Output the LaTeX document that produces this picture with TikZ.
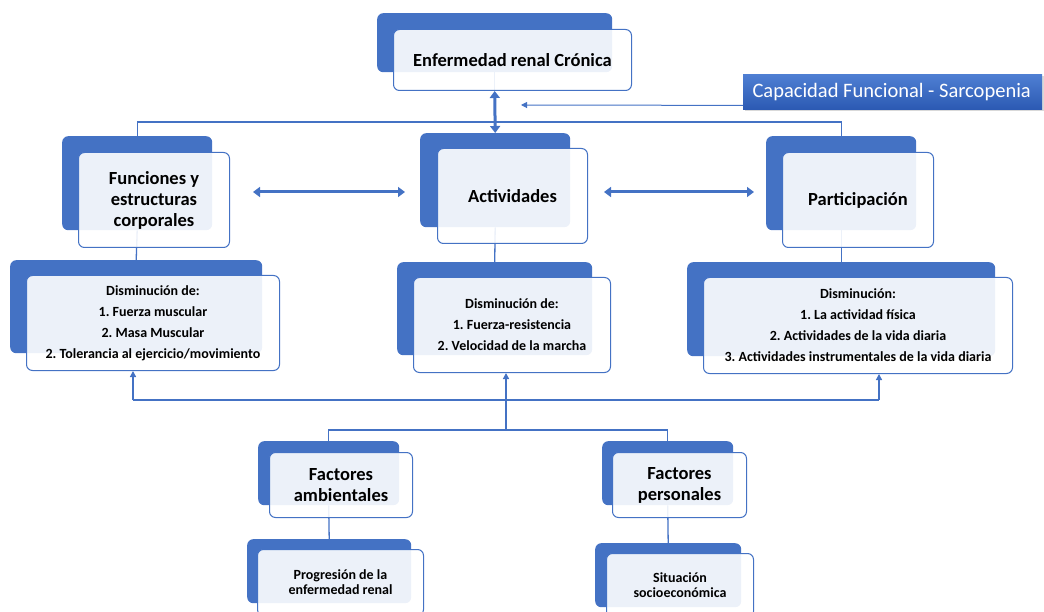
\documentclass[tikz,border=0pt]{standalone}
\usepackage{fontspec}
\setmainfont{Carlito}
\frenchspacing
\usetikzlibrary{arrows.meta,shadows}
\definecolor{bl}{HTML}{4472C4}
\definecolor{capTop}{HTML}{4F7FD3}
\definecolor{capBot}{HTML}{2C5AB3}
\tikzset{
  backbox/.style={fill=bl, draw=none, rounded corners=6pt, inner sep=0pt, anchor=north west},
  frontbox/.style={draw=bl, line width=1pt, fill=white, fill opacity=0.9, text opacity=1,
    rounded corners=6pt, inner sep=0pt, anchor=north west, align=center, text=black},
  head/.style={font=\fontsize{18.5}{21}\selectfont\bfseries},
  items/.style={font=\fontsize{14}{21}\selectfont\bfseries},
  small/.style={font=\fontsize{14}{15}\selectfont\bfseries},
  conn/.style={draw=bl, line width=1.3pt},
  thinarrow/.style={conn, -{Triangle[length=6pt,width=6pt]}},
  bigarrow/.style={draw=bl, line width=3pt,
    {Triangle[length=7pt,width=10pt]}-{Triangle[length=7pt,width=10pt]}},
}
\begin{document}
\begin{tikzpicture}[x=1pt,y=-1pt]
\path[use as bounding box] (0,0) rectangle (1044,612);
\clip (0,0) rectangle (1044,612);

% back boxes
\node[backbox, minimum width=235, minimum height=59] (eb) at (377,13) {};
\node[backbox, minimum width=150, minimum height=94] (fb) at (62,136) {};
\node[backbox, minimum width=150, minimum height=94] (ab) at (420,133) {};
\node[backbox, minimum width=150, minimum height=94] (pb) at (766,136) {};
\node[backbox, minimum width=252, minimum height=93] (fdb) at (10,260) {};
\node[backbox, minimum width=195, minimum height=93] (adb) at (397,262) {};
\node[backbox, minimum width=308, minimum height=94] (pdb) at (687,262) {};
\node[backbox, minimum width=141, minimum height=64] (amb) at (258,441) {};
\node[backbox, minimum width=131, minimum height=64] (peb) at (602,441) {};
\node[backbox, minimum width=164, minimum height=64] (amdb) at (247,539) {};
\node[backbox, minimum width=146, minimum height=64] (pedb) at (595,543) {};

% helper points for the connectors
\coordinate (topbus) at (0,122);
\coordinate (jl) at (133,400);
\coordinate (jm) at (506,400);
\coordinate (jr) at (879,400);
\coordinate (jb) at (506,430);
\coordinate (capend) at (521,105);
\coordinate (la) at (253,192);
\coordinate (lb) at (405,192);
\coordinate (ra) at (604,192);
\coordinate (rb) at (754,192);

% connectors lying under the front boxes
\draw[conn] (fb.north) -- (fb.north |- topbus) -- (pb.north |- topbus) -- (pb.north);
\draw[conn] (fb.south) -- (fdb.north);
\draw[conn] (ab.south) -- (adb.north);
\draw[conn] (pb.south) -- (pdb.north);
\draw[conn] (amb.south) -- (amdb.north);
\draw[conn] (peb.south) -- (pedb.north);
\draw[conn] (eb.south) -- ++(0,18);

% front boxes
\node[frontbox, head, minimum width=238, minimum height=61] (ef) at (393,29) {Enfermedad renal Crónica};
\node[frontbox, head, minimum width=151, minimum height=95] (ff) at (78,152) {Funciones y\\estructuras\\corporales};
\node[frontbox, head, minimum width=150, minimum height=95] (af) at (437,148) {Actividades};
\node[frontbox, head, minimum width=151, minimum height=95] (pf) at (782,152) {Participación};
\node[frontbox, items, minimum width=253, minimum height=95] (fdf) at (26,275)
  {Disminución de:\\1. Fuerza muscular\\2. Masa Muscular\\2. Tolerancia al ejercicio/movimiento};
\node[frontbox, items, minimum width=197, minimum height=95] (adf) at (413,277)
  {Disminución de:\\1. Fuerza-resistencia\\2. Velocidad de la marcha};
\node[frontbox, items, minimum width=309, minimum height=96] (pdf) at (703,277)
  {Disminución:\\1. La actividad física\\2. Actividades de la vida diaria\\3. Actividades instrumentales de la vida diaria};
\node[frontbox, head, minimum width=143, minimum height=65] (amf) at (269,452) {Factores\\ambientales};
\node[frontbox, head, minimum width=134, minimum height=65] (pef) at (612,452) {Factores\\personales};
\node[frontbox, small, minimum width=166, minimum height=66] (amdf) at (257,549) {Progresión de la\\enfermedad renal};
\node[frontbox, small, minimum width=147, minimum height=64] (pedf) at (606,553) {Situación\\socioeconómica};

% title box on the right
\node[anchor=north west, inner sep=0pt, minimum width=299, minimum height=35,
  top color=capTop, bottom color=capBot, draw=none,
  drop shadow={shadow xshift=2pt, shadow yshift=-2pt, opacity=0.3},
  text=white, font=\fontsize{20.5}{24}\selectfont] (cap) at (743,74)
  {\hspace*{-2pt}Capacidad Funcional - Sarcopenia};

% arrows
\draw[conn, line width=1pt, -{Triangle[length=6pt,width=6pt]}] ([yshift=4pt]cap.south west) -- (capend);
\draw[bigarrow] (eb.south |- ef.south) -- (ab.north);
\draw[bigarrow] (la) -- (lb);
\draw[bigarrow] (ra) -- (rb);
\draw[conn] (jl) -- (jr);
\draw[thinarrow] (jl) -- (jl |- fdf.south);
\draw[thinarrow] (jr) -- (jr |- pdf.south);
\draw[conn] (amb.north) |- (jb) -| (peb.north);
\draw[thinarrow] (jb) -- (jm) -- (jm |- adf.south);
\end{tikzpicture}
\end{document}
